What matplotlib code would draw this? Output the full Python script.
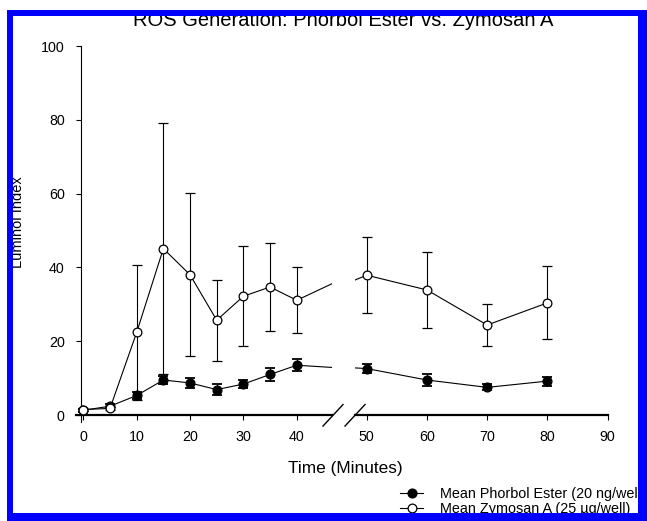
import matplotlib
matplotlib.use("Agg")
import matplotlib.pyplot as plt
from matplotlib.lines import Line2D
from matplotlib.patches import Rectangle

plt.rcParams['font.family'] = ['Liberation Sans', 'DejaVu Sans']

# ---- data ----
time_min = [0, 5, 10, 15, 20, 25, 30, 35, 40, 50, 60, 70, 80]
phorbol = [1.3, 2.4, 5.3, 9.5, 8.7, 6.9, 8.4, 11.0, 13.5, 12.6, 9.5, 7.5, 9.2]
phorbol_err = [0.4, 0.6, 1.0, 1.2, 1.3, 1.5, 1.1, 1.7, 1.6, 1.2, 1.7, 0.8, 1.2]
zymosan = [1.5, 1.8, 22.4, 45.1, 38.0, 25.7, 32.2, 34.7, 31.1, 37.9, 33.9, 24.4, 30.4]
zymosan_err = [0.3, 0.4, 18.2, 34.1, 22.1, 11.0, 13.6, 12.0, 9.0, 10.3, 10.3, 5.8, 9.9]
left_ticks = [0, 10, 20, 30, 40]
right_ticks = [50, 60, 70, 80, 90]
y_ticks = [0, 20, 40, 60, 80, 100]
labels = ["Mean Phorbol Ester (20 ng/well)", "Mean Zymosan A (25 \u00b5g/well)"]
title = "ROS Generation: Phorbol Ester vs. Zymosan A"

W, H = 647, 521
fig = plt.figure(figsize=(W / 100, H / 100), dpi=100, facecolor='white')

def fx(px):
    return px / W

def fy(py):
    return 1 - py / H

bottom = fy(421.7)
height = fy(46) - bottom
axL = fig.add_axes([fx(76), bottom, fx(332) - fx(76), height])
axR = fig.add_axes([fx(355), bottom, fx(607.7) - fx(355), height], sharey=axL)

for ax in (axL, axR):
    ax.errorbar(time_min, phorbol, yerr=phorbol_err, fmt='o-', color='black',
                mfc='black', mec='black', ms=6.3, lw=0.8, elinewidth=0.8,
                capsize=3.8, capthick=1.3, zorder=2)
    ax.errorbar(time_min, zymosan, yerr=zymosan_err, fmt='o-', color='black',
                mfc='white', mec='black', ms=6.3, mew=0.9, lw=0.8, elinewidth=0.8,
                capsize=3.6, capthick=0.9, zorder=3)
    ax.set_ylim(-1.8, 100)
    ax.spines['top'].set_visible(False)
    ax.spines['right'].set_visible(False)
    ax.spines['bottom'].set_position(('data', 0))
    ax.spines['bottom'].set_linewidth(1.6)
    ax.tick_params(axis='x', direction='out', length=3.8, width=0.8, pad=7,
                   labelsize=10.3)
    ax.set_facecolor('none')

axL.set_xlim(-1.37, 46.6)
axL.set_xticks(left_ticks)
axL.spines['left'].set_position(('data', -0.49))
axL.spines['left'].set_linewidth(0.8)
axL.set_yticks(y_ticks)
axL.tick_params(axis='y', direction='out', length=3.5, width=0.8, pad=8,
                labelsize=10.3)

axR.set_xlim(48.07, 90)
axR.set_xticks(right_ticks)
axR.spines['left'].set_visible(False)
axR.tick_params(axis='y', left=False, labelleft=False)

# break marks
def px_of(ax, x, y):
    d = ax.transData.transform((x, y))
    return d[0], H - d[1]

x1, y1 = px_of(axL, 46.6, 0)
x2, y2 = px_of(axR, 48.07, 0)
for (cx, cy) in ((x1 + 1, y1), (x2, y2)):
    fig.add_artist(Line2D([fx(cx - 10), fx(cx + 10)], [fy(cy + 11), fy(cy - 10.5)],
                          transform=fig.transFigure, color='black', lw=1.0))

# texts
fig.text(fx(343.5), fy(26.5), title, ha='center', va='baseline', fontsize=14.5)
fig.text(fx(345.8), fy(473.3), "Time (Minutes)", ha='center', va='baseline',
         fontsize=12.4)
fig.text(fx(25), fy(222), "Luminol Index", rotation=90, ha='right', va='center',
         fontsize=10.5)

# legend
handles = [
    Line2D([], [], color='black', lw=0.8, marker='o', ms=6.3, mfc='black', mec='black'),
    Line2D([], [], color='black', lw=0.8, marker='o', ms=6.3, mfc='white', mec='black', mew=0.9),
]
fig.legend(handles, labels, loc='upper left', bbox_to_anchor=(fx(400), fy(487)),
           frameon=False, fontsize=10.4, handlelength=1.6, handletextpad=1.15,
           labelspacing=0.1, borderpad=0, borderaxespad=0)

# blue frame (drawn on top)
blue = '#0000ff'
frame = [
    (7, 10, 647, 15.5),
    (7, 10, 13, 521),
    (638, 10, 647, 521),
    (7, 513, 647, 521),
]
for (xa, ya, xb, yb) in frame:
    fig.add_artist(Rectangle((fx(xa), fy(yb)), fx(xb) - fx(xa), fy(ya) - fy(yb),
                             transform=fig.transFigure, facecolor=blue,
                             edgecolor='none', zorder=20))

fig.savefig('out.png', dpi=100, facecolor='white')
